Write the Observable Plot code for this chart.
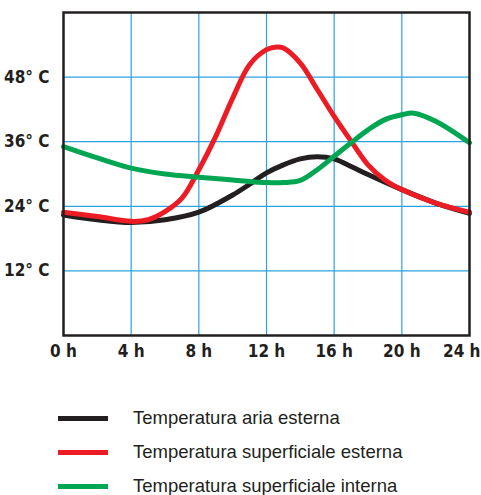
<!DOCTYPE html>
<html>
<head>
<meta charset="utf-8">
<script src="https://cdn.jsdelivr.net/npm/d3@7"></script>
<script src="https://cdn.jsdelivr.net/npm/@observablehq/plot@0.6"></script>
<style>
  body { margin: 0; background: #fff; font-family: "Liberation Sans", Arial, sans-serif; }
  #legend { margin-top: 36px; }
  .row { display: flex; align-items: center; height: 34px; }
  .sw { width: 50px; height: 5px; margin-left: 58px; margin-right: 25px; }
  .lab { font-size: 18.5px; color: #231f20; }
</style>
</head>
<body>
<div id="chart"></div>
<div id="legend"></div>
<script>
const hoursAria = [0, 2, 4, 6, 8, 10, 11, 12, 13, 14, 15, 16, 17, 18, 20, 22, 24];
const tempAria  = [22.4, 21.5, 21.0, 21.5, 22.9, 26.1, 28.1, 30.2, 31.7, 32.8, 33.2, 32.8, 31.4, 29.9, 27.1, 24.6, 22.7];

const hoursSupEst = [0, 2, 4, 5, 6, 7, 8, 9, 10, 11, 12, 12.6, 13, 14, 15, 16, 17, 18, 19, 20, 22, 24];
const tempSupEst  = [22.9, 22.1, 21.2, 21.5, 23.0, 25.5, 30.8, 37.0, 44.1, 50.3, 53.1, 53.6, 53.4, 50.6, 45.7, 40.7, 36.1, 31.7, 28.9, 27.1, 24.6, 22.9];

const hoursSupInt = [0, 2, 4, 6, 8, 10, 12, 13, 14, 15, 16, 17, 18, 19, 20, 20.7, 22, 24];
const tempSupInt  = [35.1, 33.0, 31.1, 30.0, 29.4, 28.9, 28.4, 28.4, 28.8, 30.8, 33.3, 35.8, 38.2, 40.1, 41.0, 41.3, 39.8, 35.8];

const seriesNames = ["Temperatura aria esterna", "Temperatura superficiale esterna", "Temperatura superficiale interna"];
const seriesColors = ["#231f20", "#ed1c24", "#00a651"];

const xTicks = [0, 4, 8, 12, 16, 20, 24];
const yTicks = [12, 24, 36, 48];

const rows = [
  ...hoursAria.map((h, i) => ({h, t: tempAria[i], s: seriesNames[0]})),
  ...hoursSupEst.map((h, i) => ({h, t: tempSupEst[i], s: seriesNames[1]})),
  ...hoursSupInt.map((h, i) => ({h, t: tempSupInt[i], s: seriesNames[2]}))
];

const tickFont = "'Liberation Sans Narrow', 'DejaVu Sans Condensed', 'Liberation Sans', Arial, sans-serif";

const chart = Plot.plot({
  width: 481,
  height: 365,
  marginLeft: 63,
  marginRight: 12,
  marginTop: 12,
  marginBottom: 30,
  style: {fontFamily: tickFont, fontWeight: "bold", fontSize: "17px", color: "#231f20"},
  x: {domain: [0, 24]},
  y: {domain: [0, 60]},
  color: {domain: seriesNames, range: seriesColors},
  marks: [
    Plot.ruleX(xTicks.slice(1, -1), {stroke: "#2aa3df", strokeWidth: 1.2}),
    Plot.ruleY(yTicks, {stroke: "#2aa3df", strokeWidth: 1.2}),
    Plot.line(rows, {x: "h", y: "t", z: "s", stroke: "s", strokeWidth: 5, curve: "catmull-rom"}),
    Plot.frame({stroke: "#231f20", strokeWidth: 2.5}),
    Plot.axisX(xTicks.slice(0, -1), {tickSize: 0, tickPadding: 9, tickFormat: d => `${d} h`, fontSize: 17, fontWeight: "bold", label: null}),
    Plot.axisX(xTicks.slice(-1), {tickSize: 0, tickPadding: 9, tickFormat: d => `${d} h`, fontSize: 17, fontWeight: "bold", textAnchor: "end", dx: 11, label: null}),
    Plot.axisY(yTicks, {tickSize: 0, tickPadding: 14, tickFormat: d => `${d}° C`, fontSize: 17, fontWeight: "bold", label: null})
  ]
});
document.getElementById("chart").appendChild(chart);

const legend = document.getElementById("legend");
seriesNames.forEach((name, i) => {
  const row = document.createElement("div");
  row.className = "row";
  row.innerHTML = `<div class="sw" style="background:${seriesColors[i]}"></div><span class="lab">${name}</span>`;
  legend.appendChild(row);
});
</script>
</body>
</html>
